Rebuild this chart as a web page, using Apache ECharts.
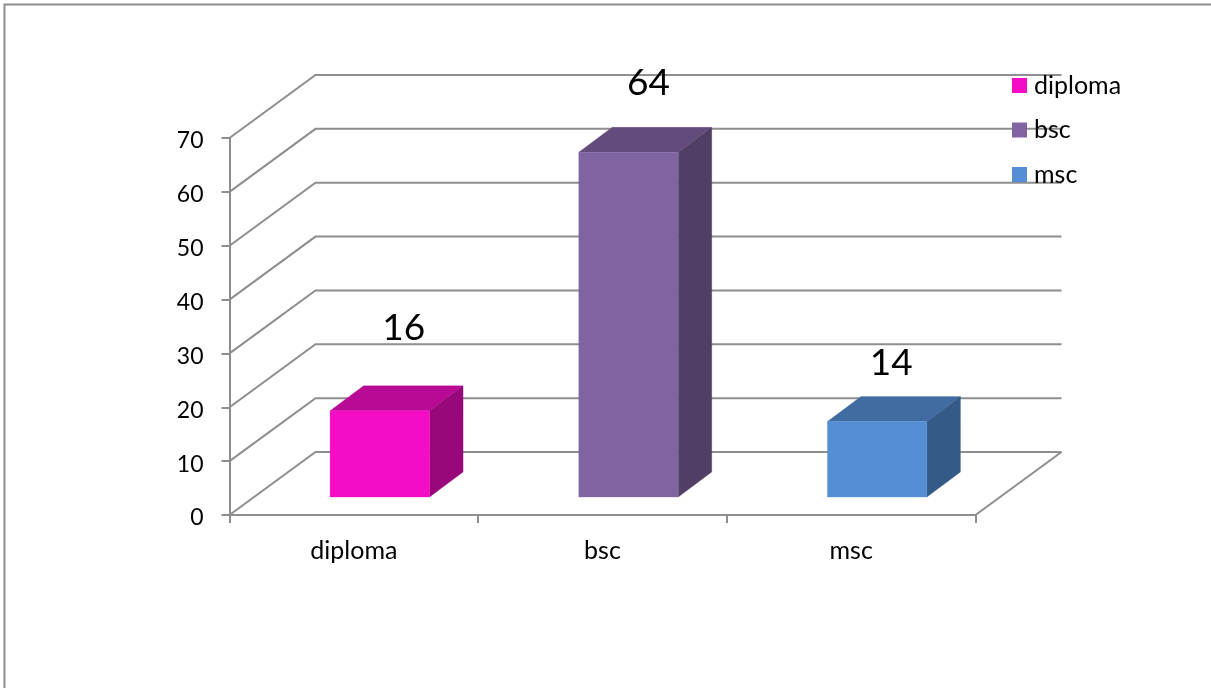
<!DOCTYPE html>
<html>
<head>
<meta charset="utf-8">
<style>html,body{margin:0;padding:0;background:#fff}#c{width:1211px;height:688px}</style>
<script src="https://cdn.jsdelivr.net/npm/echarts@6/dist/echarts.min.js"></script>
</head>
<body>
<div id="c"></div>
<script>
const categories = ['diploma', 'bsc', 'msc'];
const diplomaValues = [16, null, null];
const bscValues = [null, 64, null];
const mscValues = [null, null, 14];
const yTicks = [0, 10, 20, 30, 40, 50, 60, 70];

const FONT = 'Lato';
const LINE = '#8e8e8e';
const LW = 2;
const WALL = { dx: 86, dy: -63 };
const BAR = { width: 99.5, dx: 33.5, dy: -25, shiftX: 26, shiftY: -18 };
const palette = {
  diploma: { front: '#F50DC5', top: '#B80A94', side: '#98087A', label: [24, -83] },
  bsc: { front: '#8064A2', top: '#634C7C', side: '#513E64', label: [20, -69] },
  msc: { front: '#558ED5', top: '#416CA1', side: '#345A88', label: [14, -59] }
};

function wallItem(params, api) {
  const g = params.coordSys;
  const v = api.value(0);
  const y = api.coord([0, v])[1];
  const left = g.x, right = g.x + g.width;
  const children = [{
    type: 'polyline',
    shape: { points: [[left, y], [left + WALL.dx, y + WALL.dy], [right + WALL.dx, y + WALL.dy]] },
    style: { fill: null, stroke: LINE, lineWidth: LW }
  }];
  if (v === 0) {
    children.push({
      type: 'line',
      shape: { x1: right, y1: y, x2: right + WALL.dx, y2: y + WALL.dy },
      style: { stroke: LINE, lineWidth: LW }
    });
  }
  return { type: 'group', children };
}

function barItem(name) {
  const c = palette[name];
  return function (params, api) {
    const cat = api.value(0), val = api.value(1);
    const top = api.coord([cat, val]);
    const base = api.coord([cat, 0]);
    const x0 = top[0] + BAR.shiftX - BAR.width / 2, x1 = x0 + BAR.width;
    const yt = top[1] + BAR.shiftY, yb = base[1] + BAR.shiftY;
    const d = [BAR.dx, BAR.dy];
    const poly = (pts, fill) => ({
      type: 'polygon', shape: { points: pts },
      style: { fill, stroke: fill, lineWidth: 0.3 }
    });
    return {
      type: 'group',
      children: [
        poly([[x0, yt], [x1, yt], [x1 + d[0], yt + d[1]], [x0 + d[0], yt + d[1]]], c.top),
        poly([[x1, yt], [x1 + d[0], yt + d[1]], [x1 + d[0], yb + d[1]], [x1, yb]], c.side),
        poly([[x0, yt], [x1, yt], [x1, yb], [x0, yb]], c.front),
        {
          type: 'text',
          style: {
            x: x0 + BAR.width / 2 + c.label[0], y: yt + c.label[1],
            text: String(val), fill: '#000', font: '37px ' + FONT,
            align: 'center', verticalAlign: 'middle'
          }
        }
      ]
    };
  };
}

function barSeries(name, values) {
  return {
    name, type: 'custom', coordinateSystem: 'cartesian2d', clip: false, z: 3,
    itemStyle: { color: palette[name].front },
    renderItem: barItem(name),
    encode: { x: 0, y: 1 },
    data: values.map((v, i) => [i, v]).filter(d => d[1] !== null)
  };
}

const chart = echarts.init(document.getElementById('c'), null, { renderer: 'canvas' });
chart.setOption({
  animation: false,
  backgroundColor: '#fff',
  textStyle: { fontFamily: FONT },
  grid: { left: 229.5, right: 235.5, top: 138, bottom: 173 },
  legend: {
    left: 1007, top: 68, orient: 'vertical', itemWidth: 15, itemHeight: 15, itemGap: 19.5,
    icon: 'rect', selectedMode: false, data: categories,
    textStyle: { fontFamily: FONT, fontSize: 25, color: '#000', padding: [0, 0, 0, 2] }
  },
  xAxis: {
    type: 'category', data: categories,
    axisLine: { lineStyle: { color: LINE, width: LW } },
    axisTick: { show: true, length: 8, lineStyle: { color: LINE, width: LW } },
    axisLabel: { fontFamily: FONT, fontSize: 25, color: '#000', margin: 23 }
  },
  yAxis: {
    type: 'value', min: 0, max: 70, interval: 10,
    axisLine: { show: true, lineStyle: { color: LINE, width: LW } },
    axisTick: { show: true, length: 8, lineStyle: { color: LINE, width: LW } },
    axisLabel: { fontFamily: FONT, fontSize: 23, color: '#000', margin: 26, verticalAlign: 'top', lineHeight: 6 },
    splitLine: { show: false }
  },
  graphic: [
    { type: 'polyline', silent: true, z: 0,
      shape: { points: [[4.5, 688], [4.5, 4.5], [1211, 4.5]] },
      style: { fill: null, stroke: '#8e8e8e', lineWidth: 2 } }
  ],
  series: [
    { name: 'walls', type: 'custom', coordinateSystem: 'cartesian2d', clip: false, silent: true, z: 1,
      renderItem: wallItem, encode: { y: 0 }, data: yTicks.map(v => [v]) },
    barSeries('diploma', diplomaValues),
    barSeries('bsc', bscValues),
    barSeries('msc', mscValues)
  ]
});
</script>
</body>
</html>
